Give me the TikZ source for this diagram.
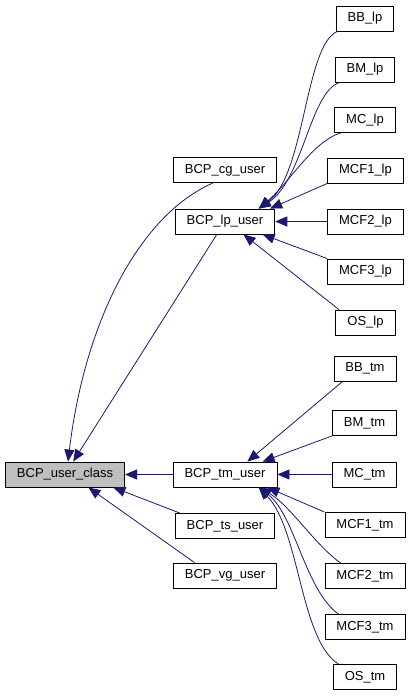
\documentclass[tikz,border=0pt]{standalone}
\usepackage{fontspec}
\setmainfont{Liberation Sans}
\usepackage{xcolor}
\usepackage{tikz}
\usetikzlibrary{shapes, arrows.meta, positioning}
\definecolor{edgeblue}{RGB}{25,25,112}
\definecolor{focusgray}{RGB}{191,191,191}
\tikzstyle{classbox} = [rectangle, minimum height=25pt, inner xsep=11.5pt, text centered, draw=black, line width=0.9pt, fill=white, font=\fontsize{13}{15}\selectfont]
\tikzstyle{focus} = [classbox, fill=focusgray]
\tikzstyle{arrow} = [draw=edgeblue, line width=0.8pt, -{Triangle[length=12pt,width=10pt]}]

\begin{document}
\begin{tikzpicture}[x=1pt, y=-1pt]
        \useasboundingbox (0,0) rectangle (411,696);
        % Base class and its direct children
        \node (uc) [focus] at (65,474.5) {BCP\_user\_class};
        \node (cg) [classbox] at (225,170) {BCP\_cg\_user};
        \node (lp) [classbox] at (225,221.5) {BCP\_lp\_user};
        \node (tm) [classbox] at (225,474.5) {BCP\_tm\_user};
        \node (ts) [classbox] at (225,526) {BCP\_ts\_user};
        \node (vg) [classbox] at (225,575.5) {BCP\_vg\_user};
        % Children of BCP_lp_user
        \node (BBlp) [classbox] at (365,18.5) {BB\_lp};
        \node (BMlp) [classbox] at (365,69.5) {BM\_lp};
        \node (MClp) [classbox] at (365,120) {MC\_lp};
        \node (MCFonelp) [classbox] at (365.5,170.5) {MCF1\_lp};
        \node (MCFtwolp) [classbox] at (365.5,221.5) {MCF2\_lp};
        \node (MCFthreelp) [classbox] at (365.5,271.5) {MCF3\_lp};
        \node (OSlp) [classbox] at (365.5,322.5) {OS\_lp};
        % Children of BCP_tm_user
        \node (BBtm) [classbox] at (365,368.5) {BB\_tm};
        \node (BMtm) [classbox] at (364.5,423) {BM\_tm};
        \node (MCtm) [classbox] at (364.5,474.5) {MC\_tm};
        \node (MCFonetm) [classbox] at (365,525) {MCF1\_tm};
        \node (MCFtwotm) [classbox] at (365,576) {MCF2\_tm};
        \node (MCFthreetm) [classbox] at (365,627) {MCF3\_tm};
        \node (OStm) [classbox] at (365,677) {OS\_tm};
        % Arrows into the base class
        \draw [arrow] (cg.227) .. controls (140,215) and (85,320) .. (uc.77);
        \draw [arrow] (lp) -- (uc);
        \draw [arrow] (tm) -- (uc);
        \draw [arrow] (ts.164) -- (uc.345);
        \draw [arrow] (vg.157) -- (uc.331);
        % Arrows into BCP_lp_user
        \draw [arrow] (BBlp.205) .. controls (305,45) and (305,175) .. (lp.21);
        \draw [arrow] (BMlp.207) .. controls (310,92) and (303,180) .. (lp.21);
        \draw [arrow] (MClp.208) .. controls (312,142) and (290,182) .. (lp.21);
        \draw [arrow] (MCFonelp.south west) -- (lp.16);
        \draw [arrow] (MCFtwolp) -- (lp);
        \draw [arrow] (MCFthreelp.north west) -- (lp.341);
        \draw [arrow] (OSlp.154) -- (lp.325);
        % Arrows into BCP_tm_user
        \draw [arrow] (BBtm.210) -- (tm.30);
        \draw [arrow] (BMtm.south west) -- (tm.19);
        \draw [arrow] (MCtm) -- (tm);
        \draw [arrow] (MCFonetm.north west) -- (tm.343);
        \draw [arrow] (MCFtwotm.152) .. controls (315,545) and (290,505) .. (tm.339);
        \draw [arrow] (MCFthreetm.154) .. controls (305,590) and (295,515) .. (tm.339);
        \draw [arrow] (OStm.154) .. controls (300,640) and (300,530) .. (tm.339);
    \end{tikzpicture}
\end{document}
